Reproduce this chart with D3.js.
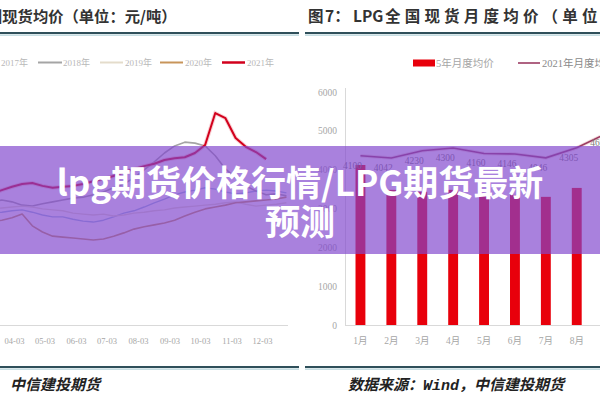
<!DOCTYPE html>
<html><head><meta charset="utf-8">
<script src="https://cdn.jsdelivr.net/npm/d3@7"></script>
<style>
html,body{margin:0;padding:0;background:#fff;}
svg{display:block;}
</style></head>
<body>
<svg id="c" width="600" height="400"></svg>
<script>
// ---------------- DATA ----------------
// Left chart: daily spot price sampled every 10 days (yuan/ton)
const sampleDates = ["01-01","01-11","01-21","01-31","02-10","02-20","03-02","03-12","03-22","04-01","04-11","04-21","05-01","05-11","05-21","05-31","06-10","06-20","06-30","07-10","07-20","07-30","08-09","08-19","08-29","09-08","09-18","09-28","10-08","10-18","10-28","11-07","11-17","11-27","12-07","12-17","12-27"];
const price2017 = [4090,3980,3770,3550,3400,3340,3360,3380,3400,3430,3450,3400,3340,3300,3300,3250,3210,3190,3230,3300,3380,3430,3510,3600,3680,3770,3830,3870,3920,3890,3830,3790,3810,3850,3870,3850,3810];
const price2018 = [4190,4130,3980,3830,3700,3600,3550,3620,3660,3620,3550,3530,3580,3620,3660,3700,3720,3770,3830,3920,4000,4130,4300,4470,4660,4810,4890,4870,4810,4600,4320,4130,3960,3850,3770,3790,3750];
const price2019 = [3340,3380,3400,3450,3470,3450,3430,3470,3490,3510,3530,3510,3470,3450,3430,3380,3360,3340,3360,3320,3340,3380,3400,3430,3450,3490,3510,3530,3550,3570,3600,3620,3570,3530,3550,3570,3600];
const price2020 = [3980,3920,3770,3550,3340,3190,3130,3190,3230,3280,3360,3110,2980,2890,2870,2850,2830,2810,2830,2890,2960,3040,3090,3130,3170,3230,3320,3400,3470,3510,3550,3600,3620,3640,3660,3680,3720];
const price2021 = [3980,4090,4130,4040,3920,3830,3770,3790,3870,3940,4000,4020,3960,3920,3940,3960,4000,4060,4110,4170,4250,4320,4380,4430,4510,4550,4570,4660,4830,5510,5400,4980,4790,4680,4530,null,null];
const yearNames = ["2017年","2018年","2019年","2020年","2021年"];
const leftTickLabels = ["01-03","02-03","03-03","04-03","05-03","06-03","07-03","08-03","09-03","10-03","11-03","12-03"];

// Right chart: monthly averages
const months = ["1月","2月","3月","4月","5月","6月","7月","8月","9月","10月","11月","12月"];
const avg5Year = [4120,3480,3430,3480,3400,3350,3300,3530,3650,3900,4100,4150];
const month2021 = [4100,4042,4230,4300,4160,4146,4046,4305,4690];
const rightYTicks = [0,1000,2000,3000,4000,5000,6000];

// ---------------- DRAW ----------------
const W = 600;
const svg = d3.select("#c");
const CJK = "'Noto Sans CJK SC', 'Noto Sans', sans-serif";
const NUM = "'Liberation Serif', 'Noto Sans CJK SC', serif";

// ---- Left panel ----
const parse = d3.timeParse("%Y-%m-%d");
const xL = d3.scaleTime().domain([parse("2021-01-01"), parse("2021-12-31")]).range([-79.5, 290.5]);
const yL = d3.scaleLinear().domain([1000, 6000]).range([325, 90]);

const left = svg.append("g");
left.append("line").attr("x1",0).attr("x2",288).attr("y1",325.5).attr("y2",325.5)
  .attr("stroke","#d9d9d9").attr("stroke-width",1);

// only ticks that fall inside the visible window get a label
const visibleLeftTicks = leftTickLabels.map(s => parse("2021-" + s)).filter(t => xL(t) - 10 >= 0);
const axL = d3.axisBottom(xL)
  .tickValues(visibleLeftTicks)
  .tickFormat(d3.timeFormat("%m-%d")).tickSize(0).tickPadding(13);
const gAxL = left.append("g").attr("transform","translate(0,325)").call(axL);
gAxL.select(".domain").remove();
gAxL.selectAll("text").attr("fill","#a6a6a6").style("font-family",NUM).style("font-size","8.5px");

const leftSeries = [
  {name:yearNames[0], vals:price2017, color:"#9dbbe0", w:1.4},
  {name:yearNames[1], vals:price2018, color:"#a5a5a5", w:1.6},
  {name:yearNames[2], vals:price2019, color:"#e4dccb", w:1.4},
  {name:yearNames[3], vals:price2020, color:"#c8955a", w:1.6},
  {name:yearNames[4], vals:price2021, color:"#d2001c", w:2.0}
];
const lineL = d3.line()
  .defined(d => d.v !== null)
  .x(d => xL(d.t)).y(d => yL(d.v)).curve(d3.curveLinear);
leftSeries.forEach(s => {
  const pts = sampleDates.map((m,i) => ({t: parse("2021-" + m), v: s.vals[i]}));
  if (s.name === "2021年") {
    left.append("path").datum(pts).attr("d", lineL).attr("fill","none")
      .attr("stroke", "#f2a0a8").attr("stroke-width", 4).attr("opacity",0.5);
  }
  left.append("path").datum(pts).attr("d", lineL).attr("fill","none")
    .attr("stroke", s.color).attr("stroke-width", s.w).attr("stroke-linejoin","round");
});

// left legend
const legL = [
  {x1:-30, x2:-6, tx:1},
  {x1:38, x2:62, tx:63},
  {x1:100, x2:123, tx:125},
  {x1:160, x2:183, tx:185},
  {x1:222, x2:245, tx:247}
];
leftSeries.forEach((s,i) => {
  const L = legL[i];
  left.append("line").attr("x1",L.x1).attr("x2",L.x2).attr("y1",62.5).attr("y2",62.5)
    .attr("stroke", s.color).attr("stroke-width", i===4 ? 2.5 : 2);
  left.append("text").attr("x",L.tx).attr("y",66).text(s.name)
    .attr("fill","#b8b8b8").style("font-family",NUM).style("font-size","9px");
});

// ---- Right panel ----
const xR = d3.scaleBand().domain(months).range([345, 345 + 12*30.9]).paddingInner(0.68).paddingOuter(0.34);
const yR = d3.scaleLinear().domain([0, 6000]).range([325, 92]);
const yR2 = d3.scaleLinear().domain([0, 6000]).range([315, 82]); // secondary axis (off canvas)

const right = svg.append("g");
right.append("line").attr("x1",345.5).attr("x2",345.5).attr("y1",88).attr("y2",325)
  .attr("stroke","#d9d9d9");
right.append("line").attr("x1",345).attr("x2",600).attr("y1",325.5).attr("y2",325.5)
  .attr("stroke","#d9d9d9");

const axRY = d3.axisLeft(yR).tickValues(rightYTicks).tickSize(0).tickPadding(8).tickFormat(d3.format("d"));
const gRY = right.append("g").attr("transform","translate(345,0)").call(axRY);
gRY.select(".domain").remove();
gRY.selectAll("text").attr("fill","#a6a6a6").style("font-family",NUM).style("font-size","9.5px");

const visibleMonths = months.filter(m => xR(m) < W + 5);
const axRX = d3.axisBottom(xR).tickValues(visibleMonths).tickSize(0).tickPadding(12);
const gRX = right.append("g").attr("transform","translate(0,325)").call(axRX);
gRX.select(".domain").remove();
gRX.selectAll("text").attr("fill","#a6a6a6").style("font-family",NUM).style("font-size","9.5px");

right.selectAll("rect.bar").data(avg5Year).enter().append("rect")
  .attr("class","bar")
  .attr("x",(d,i) => xR(months[i]))
  .attr("width", xR.bandwidth())
  .attr("y", d => yR(d))
  .attr("height", d => yR(0) - yR(d))
  .attr("fill","#e8000b");

const lineR = d3.line().x((d,i) => xR(months[i]) + xR.bandwidth()/2).y(d => yR2(d));
right.append("path").datum(month2021).attr("d", lineR).attr("fill","none")
  .attr("stroke","#e9c5c5").attr("stroke-width",3.5).attr("opacity",0.6);
right.append("path").datum(month2021).attr("d", lineR).attr("fill","none")
  .attr("stroke","#9b3b62").attr("stroke-width",1.6);
right.selectAll("text.lbl").data(month2021).enter().append("text")
  .attr("class","lbl")
  .attr("x",(d,i) => xR(months[i]) + xR.bandwidth()/2 - 8)
  .attr("y", d => yR2(d) + 13)
  .attr("text-anchor","middle")
  .text(d => d)
  .attr("fill","#7a7a7a").style("font-family",NUM).style("font-size","9.5px");

// right legend
right.append("rect").attr("x",413).attr("y",59.5).attr("width",22).attr("height",7).attr("fill","#e8000b");
right.append("text").attr("x",436).attr("y",67).text("5年月度均价")
  .attr("fill","#a6a6a6").style("font-family",NUM).style("font-size","10.5px");
right.append("line").attr("x1",518).attr("x2",540).attr("y1",63).attr("y2",63)
  .attr("stroke","#9b3b62").attr("stroke-width",1.6);
right.append("text").attr("x",542).attr("y",67).text("2021年月度均价")
  .attr("fill","#8a8a8a").style("font-family",NUM).style("font-size","10.5px");

// ---- titles, rules, footers ----
const rules = [[0,299,33],[305,600,33],[0,299,367],[305,600,367]];
rules.forEach(r => {
  svg.append("line").attr("x1",r[0]).attr("x2",r[1]).attr("y1",r[2]).attr("y2",r[2])
    .attr("stroke","#2f4f5a").attr("stroke-width",2);
  svg.append("line").attr("x1",r[0]).attr("x2",r[1]).attr("y1",r[2]+2.2).attr("y2",r[2]+2.2)
    .attr("stroke","#b3d2d8").attr("stroke-width",1.2);
});

svg.append("text").attr("x",-13).attr("y",22).text("国现货均价（单位：元/吨）")
  .attr("fill","#333").style("font-family",CJK).style("font-weight","bold").style("font-size","15.3px");

const t2 = svg.append("text").attr("y",22)
  .attr("fill","#333").style("font-family",CJK).style("font-weight","bold").style("font-size","15.5px");
t2.append("tspan").attr("x",308).text("图");
t2.append("tspan").attr("x",325).text("7：");
t2.append("tspan").attr("x",353).text("LPG");
t2.append("tspan").attr("x",385).style("letter-spacing","4.2px").text("全国现货月度均价（单位：元/吨）");

svg.append("text").attr("x",10).attr("y",390).text("中信建投期货")
  .attr("fill","#222").style("font-family",CJK).style("font-weight","bold")
  .style("font-style","italic").style("font-size","15px");
const f2 = svg.append("text").attr("x",348).attr("y",390)
  .attr("fill","#222").style("font-family",CJK).style("font-weight","bold")
  .style("font-style","italic").style("font-size","15px");
f2.append("tspan").text("数据来源：");
f2.append("tspan").style("font-family","'Liberation Mono', monospace").text("Wind");
f2.append("tspan").text("，中信建投期货");

// ---- overlay banner ----
svg.append("rect").attr("x",0).attr("y",146).attr("width",600).attr("height",108)
  .attr("fill","rgb(128,70,205)").attr("opacity",0.68);
svg.append("text").attr("x",300).attr("y",196).attr("text-anchor","middle")
  .text("lpg期货价格行情/LPG期货最新")
  .attr("fill","#fff").style("font-family",CJK).style("font-weight","bold").style("font-size","35px");
svg.append("text").attr("x",300).attr("y",235).attr("text-anchor","middle")
  .text("预测")
  .attr("fill","#fff").style("font-family",CJK).style("font-weight","bold").style("font-size","35px");
</script>
</body></html>
